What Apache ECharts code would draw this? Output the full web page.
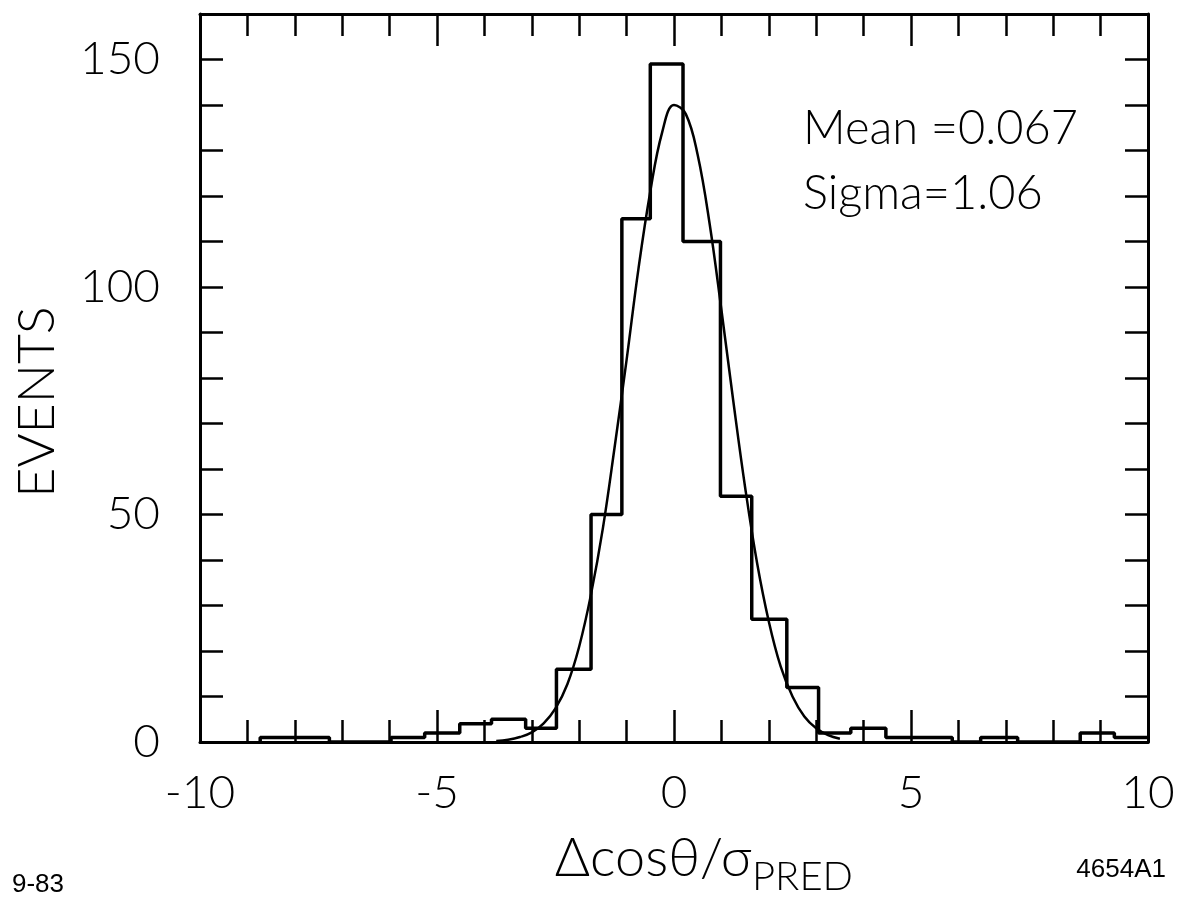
<!DOCTYPE html>
<html>
<head>
<meta charset="utf-8">
<script src="https://cdn.jsdelivr.net/npm/echarts@6/dist/echarts.min.js"></script>
<style>
  html, body { margin: 0; padding: 0; background: #fff; }
  #chart { width: 1179px; height: 900px; }
</style>
</head>
<body>
<div id="chart"></div>
<script>
// ---- data ----
// histogram bin edges (x units) and counts per bin
var binEdges = [-8.73, -8.0, -7.27, -5.97, -5.26, -4.52, -3.85, -3.13, -2.48, -1.75, -1.10, -0.50, 0.19, 0.98, 1.64, 2.38, 3.05, 3.73, 4.47, 5.17, 5.87, 6.47, 7.25, 8.57, 9.01, 9.29, 10];
var binCounts = [1, 1, 0, 1, 2, 4, 5, 3, 16, 50, 115, 149, 110, 54, 27, 12, 2, 3, 1, 1, 0, 1, 0, 2, 2, 1];
// fitted curve, points
var curveX = [-3.75, -3.5, -3.25, -3.0, -2.75, -2.5, -2.25, -2.0, -1.75, -1.5, -1.25, -1.0, -0.75, -0.5, -0.25, 0, 0.25, 0.5, 0.75, 1.0, 1.25, 1.5, 1.75, 2.0, 2.25, 2.5, 2.75, 3.0, 3.25, 3.5];
var curveY = [0.2, 0.5, 1.1, 2.1, 4.1, 7.4, 12.7, 21, 32.5, 47, 65, 84, 104, 121, 134, 140, 138, 129, 114, 95, 75, 56, 39.5, 26.5, 16.6, 10, 5.6, 3, 1.5, 0.7];
var xTickLabels = [-10, -5, 0, 5, 10];
var yTickLabels = [0, 50, 100, 150];
var statsText = ['Mean =0.067', 'Sigma=1.06'];

// ---- build series data ----
var histPts = [[binEdges[0], 0]];
for (var i = 0; i < binCounts.length; i++) {
  histPts.push([binEdges[i], binCounts[i]]);
  histPts.push([binEdges[i + 1], binCounts[i]]);
}
var curvePts = curveX.map(function (x, i) { return [x, curveY[i]]; });

var FONT = 'Lato';
var labelStyle = { color: '#000', fontFamily: FONT, fontWeight: 300, fontSize: 46 };

function xAxisCfg(pos, showLabel) {
  return {
    type: 'value', position: pos, min: -10, max: 10, interval: 5,
    axisLine: { show: true, onZero: false, lineStyle: { color: '#000', width: 3 } },
    axisTick: { show: true, inside: true, length: 32, lineStyle: { color: '#000', width: 2.5 } },
    minorTick: { show: true, splitNumber: 5, length: 22, lineStyle: { color: '#000', width: 2.5 } },
    splitLine: { show: false },
    axisLabel: Object.assign({
      show: showLabel, margin: 28,
      formatter: function (v) { return xTickLabels.indexOf(v) >= 0 ? String(v) : ''; }
    }, labelStyle)
  };
}
function yAxisCfg(pos, showLabel) {
  return {
    type: 'value', position: pos, min: 0, max: 160, interval: 10,
    axisLine: { show: true, onZero: false, lineStyle: { color: '#000', width: 3 } },
    axisTick: { show: true, inside: true, length: 23, lineStyle: { color: '#000', width: 2.5 } },
    splitLine: { show: false },
    axisLabel: Object.assign({
      show: showLabel, margin: 40,
      formatter: function (v) { return yTickLabels.indexOf(v) >= 0 ? String(v) : ''; }
    }, labelStyle)
  };
}

var chart = echarts.init(document.getElementById('chart'), null, { renderer: 'canvas' });
chart.setOption({
  backgroundColor: '#fff',
  animation: false,
  grid: { left: 200, right: 31, top: 14, bottom: 158 },
  xAxis: [xAxisCfg('bottom', true), xAxisCfg('top', false)],
  yAxis: [yAxisCfg('left', true), yAxisCfg('right', false)],
  series: [
    {
      type: 'line', xAxisIndex: 0, yAxisIndex: 0, data: histPts,
      symbol: 'none', lineStyle: { color: '#000', width: 3.5 }, z: 3
    },
    {
      type: 'line', xAxisIndex: 0, yAxisIndex: 0, data: curvePts, smooth: 0.4,
      symbol: 'none', lineStyle: { color: '#000', width: 2.5 }, z: 4
    }
  ],
  graphic: [
    { type: 'text', position: [37, 402], rotation: Math.PI / 2,
      style: { text: 'EVENTS', textAlign: 'center', textVerticalAlign: 'middle',
        fill: '#000', font: '300 52px ' + FONT } },
    { type: 'text', position: [803, 152],
      style: { text: statsText[0], textAlign: 'left', textVerticalAlign: 'bottom', fill: '#000', font: '300 47px ' + FONT } },
    { type: 'text', position: [803, 217],
      style: { text: statsText[1], textAlign: 'left', textVerticalAlign: 'bottom', fill: '#000', font: '300 47px ' + FONT } },
    { type: 'text', position: [752, 886],
      style: { text: 'Δcosθ/σ', textAlign: 'right', textVerticalAlign: 'bottom', fill: '#000', font: '300 54px ' + FONT } },
    { type: 'text', position: [752, 897],
      style: { text: 'PRED', textAlign: 'left', textVerticalAlign: 'bottom', fill: '#000', font: '300 40px ' + FONT } },
    { type: 'text', position: [12, 885],
      style: { text: '9-83', textAlign: 'left', textVerticalAlign: 'middle', fill: '#000', font: '400 26px "Liberation Sans"' } },
    { type: 'text', position: [1166, 870],
      style: { text: '4654A1', textAlign: 'right', textVerticalAlign: 'middle', fill: '#000', font: '400 26px "Liberation Sans"' } }
  ]
});
</script>
</body>
</html>
